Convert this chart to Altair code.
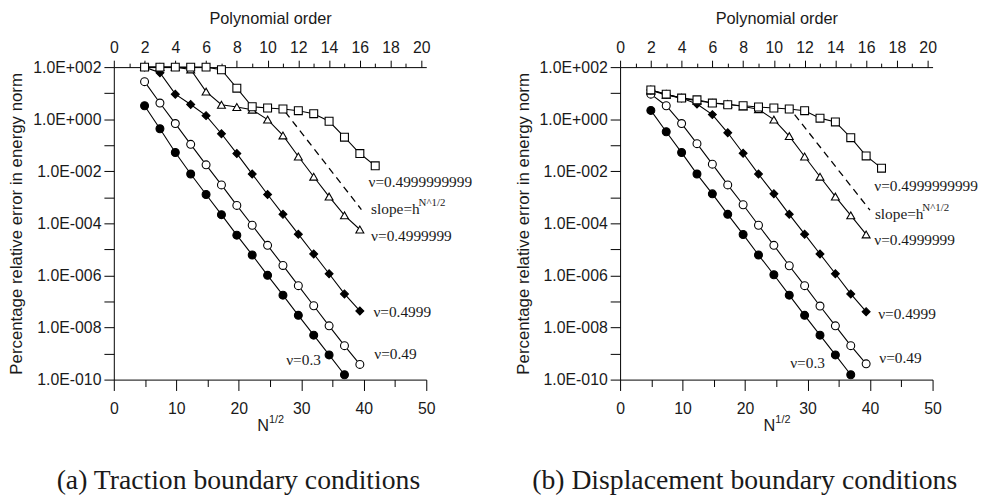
import altair as alt
import pandas as pd

# ---------------- data ----------------
SERIES = ["ν=0.3", "ν=0.49", "ν=0.4999", "ν=0.4999999", "ν=0.4999999999"]
SHAPES = ["circle", "circle", "diamond", "triangle-up", "square"]
FILLS = ["black", "white", "black", "white", "white"]
SIZES = [64, 64, 85, 80, 62]

P_15 = [2, 3, 4, 5, 6, 7, 8, 9, 10, 11, 12, 13, 14, 15]
P_16 = [2, 3, 4, 5, 6, 7, 8, 9, 10, 11, 12, 13, 14, 15, 16]
P_17 = [2, 3, 4, 5, 6, 7, 8, 9, 10, 11, 12, 13, 14, 15, 16, 17]
P_LISTS = [P_15, P_16, P_16, P_16, P_17]

# (a) traction boundary conditions
A_03 = [3.29, 0.428, 0.0524, 7.83e-3, 1.28e-3, 2.16e-4, 3.53e-5, 6.12e-6,
        1.01e-6, 1.75e-7, 2.94e-8, 5.09e-9, 8.85e-10, 1.53e-10]
A_049 = [27.6, 4.17, 0.681, 0.108, 0.0177, 2.99e-3, 4.88e-4, 8.47e-5,
         1.43e-5, 2.42e-6, 4.06e-7, 6.87e-8, 1.16e-8, 2.01e-9, 3.82e-10]
A_04999 = [100, 60.7, 9.16, 3.69, 1.37, 0.276, 0.048, 7.83e-3,
           1.28e-3, 2.22e-4, 3.85e-5, 6.68e-6, 1.16e-6, 1.95e-7, 4.32e-8]
A_04999999 = [100, 100, 100, 81.3, 11.5, 3.59, 2.94, 2.32,
              0.966, 0.238, 0.0369, 6.18e-3, 1.07e-3, 2.03e-4, 5.81e-5]
A_04999999999 = [100, 100, 100, 100, 100, 79.4, 15.5, 3.01,
                 2.69, 2.47, 2.12, 1.63, 0.832, 0.205, 0.048, 0.0162]

# (b) displacement boundary conditions
B_03 = [2.18, 0.329, 0.0524, 7.83e-3, 1.36e-3, 2.22e-4, 3.75e-5, 6.12e-6,
        1.06e-6, 1.75e-7, 2.94e-8, 5.09e-9, 8.85e-10, 1.53e-10]
B_049 = [9.16, 3.29, 0.681, 0.115, 0.0188, 2.99e-3, 5.19e-4, 8.47e-5,
         1.43e-5, 2.35e-6, 4.06e-7, 6.68e-8, 1.16e-8, 2.01e-9, 4.03e-10]
B_04999 = [13.3, 9.16, 6.46, 3.82, 1.50, 0.301, 0.0492, 7.83e-3,
           1.36e-3, 2.22e-4, 3.85e-5, 6.68e-6, 1.16e-6, 1.95e-7, 4.06e-8]
B_04999999 = [12.6, 8.61, 6.46, 5.09, 4.17, 3.82, 3.09, 2.42,
              0.966, 0.224, 0.0369, 6.18e-3, 1.07e-3, 2.03e-4, 3.75e-5]
B_04999999999 = [13.3, 9.16, 6.46, 5.56, 4.17, 3.59, 3.29, 2.94,
                 2.69, 2.47, 2.12, 1.10, 0.789, 0.195, 0.0388, 0.0132]

SLOPE_A_P = [11.15, 16.1]
SLOPE_A_E = [1.9, 3.4e-4]
SLOPE_B_P = [11.35, 16.25]
SLOPE_B_E = [1.5, 3.2e-4]

LABELS = ["ν=0.4999999999", "slope=h", "ν=0.4999999", "ν=0.4999", "ν=0.49", "ν=0.3"]
LAB_A_P = [16.56, 16.73, 16.73, 16.88, 16.94, 11.21]
LAB_A_E = [3.8e-3, 3.66e-4, 3.35e-5, 4.07e-8, 9.8e-10, 5.75e-10]
LAB_B_P = [16.53, 16.57, 16.53, 16.78, 16.85, 11.06]
LAB_B_E = [2.67e-3, 2.36e-4, 2.34e-5, 3.4e-8, 6.8e-10, 4.27e-10]
SUPER_TEXT = "N^1/2"

CAPTIONS = ["(a) Traction boundary conditions", "(b) Displacement boundary conditions"]
Y_TICKS = [1e2, 1e1, 1e0, 1e-1, 1e-2, 1e-3, 1e-4, 1e-5, 1e-6, 1e-7, 1e-8, 1e-9, 1e-10]
TOP_TICKS = [0, 1, 2, 3, 4, 5, 6, 7, 8, 9, 10, 11, 12, 13, 14, 15, 16, 17, 18, 19, 20]
BOTTOM_TICKS = [0, 5, 10, 15, 20, 25, 30, 35, 40, 45, 50]
BOTTOM_DOMAIN = [0, 50]
TOP_DOMAIN = [0, 20.32]
Y_DOMAIN = [1e-10, 1e2]

W = 316
H = 316
SANS = "Liberation Sans"
SERIF = "Liberation Serif"
INK = "#1a1a1a"

Y_LABEL_EXPR = ("(round(log(datum.value)/LN10) % 2 === 0) ? ('1.0E' + (datum.value >= 1 ? '+' : '-') + "
                "format(abs(round(log(datum.value)/LN10)), '03d')) : ''")

axis_common = dict(
    grid=False, domainColor="black", domainWidth=1, tickColor="black", tickWidth=1,
    labelColor=INK, labelFont=SANS, labelFontSize=16, labelFlush=False,
    labelOverlap=False, titleFont=SANS, titleFontWeight="normal", titleColor=INK,
)


def panel(vals, lab_p, lab_e, slope_p, slope_e, caption):
    rows = []
    for name, ps, es in zip(SERIES, P_LISTS, vals):
        for p, e in zip(ps, es):
            rows.append({"series": name, "p": p, "err": e})
    df = pd.DataFrame(rows)
    slope_df = pd.DataFrame({"p": slope_p, "err": slope_e})
    lab_df = pd.DataFrame({"p": lab_p, "err": lab_e, "t": LABELS})
    sup_df = pd.DataFrame({"p": [lab_p[1]], "err": [lab_e[1]], "t": [SUPER_TEXT]})

    xs = alt.Scale(domain=TOP_DOMAIN, nice=False, zero=False)
    ys = alt.Scale(type="log", domain=Y_DOMAIN, nice=False)
    x = alt.X("p:Q", scale=xs, axis=alt.Axis(
        orient="top", values=TOP_TICKS, title="Polynomial order", titleFontSize=16.5,
        labelExpr="datum.value % 2 === 0 ? datum.label : ''",
        tickSize={"condition": {"test": "datum.value % 2 === 0", "value": 7}, "value": 4},
        labelPadding=5, titlePadding=13, **axis_common))
    y = alt.Y("err:Q", scale=ys, axis=alt.Axis(
        values=Y_TICKS, labelExpr=Y_LABEL_EXPR, tickSize=10, labelPadding=3,
        title="Percentage relative error in energy norm", titleFontSize=17,
        titlePadding=7, **axis_common))

    lines = alt.Chart(df).mark_line(color="black", strokeWidth=1.1).encode(
        x=x, y=y, detail="series:N")
    pts = alt.Chart(df).mark_point(filled=True, stroke="black", strokeWidth=1.1, opacity=1).encode(
        x=x, y=y,
        shape=alt.Shape("series:N", scale=alt.Scale(domain=SERIES, range=SHAPES), legend=None),
        fill=alt.Fill("series:N", scale=alt.Scale(domain=SERIES, range=FILLS), legend=None),
        size=alt.Size("series:N", scale=alt.Scale(domain=SERIES, range=SIZES), legend=None),
    )
    slope = alt.Chart(slope_df).mark_line(color="black", strokeWidth=1.3, strokeDash=[7, 5]).encode(
        x=x, y=y)
    labs = alt.Chart(lab_df).mark_text(align="left", baseline="middle", font=SERIF,
                                       fontSize=15.5, color=INK).encode(x=x, y=y, text="t:N")
    sup = alt.Chart(sup_df).mark_text(align="left", baseline="middle", font=SERIF,
                                      fontSize=11, color=INK, dx=48, dy=-6).encode(
        x=x, y=y, text="t:N")
    inner = alt.layer(lines, slope, pts, labs, sup)

    bdf = pd.DataFrame({"n": BOTTOM_DOMAIN})
    bottom = alt.Chart(bdf).mark_point(opacity=0).encode(
        x=alt.X("n:Q", scale=alt.Scale(domain=BOTTOM_DOMAIN, nice=False, zero=False),
                axis=alt.Axis(orient="bottom", values=BOTTOM_TICKS, title=None,
                              labelExpr="datum.value % 10 === 0 ? datum.label : ''",
                              tickSize={"condition": {"test": "datum.value % 10 === 0", "value": 11}, "value": 7},
                              labelPadding=10, **axis_common)))

    nt = alt.Chart(pd.DataFrame({"t": ["N"]})).mark_text(
        font=SANS, fontSize=16.5, align="right", baseline="middle", color=INK).encode(
        text="t:N", x=alt.value(157), y=alt.value(363))
    nsup = alt.Chart(pd.DataFrame({"t": ["1/2"]})).mark_text(
        font=SANS, fontSize=11, align="left", baseline="middle", color=INK).encode(
        text="t:N", x=alt.value(157), y=alt.value(357))
    cap = alt.Chart(pd.DataFrame({"t": [caption]})).mark_text(
        font=SERIF, fontSize=28, align="center", baseline="middle", color=INK).encode(
        text="t:N", x=alt.value(126), y=alt.value(419))

    return alt.layer(inner, bottom, nt, nsup, cap).resolve_scale(x="independent").properties(
        width=W, height=H)


left = panel([A_03, A_049, A_04999, A_04999999, A_04999999999],
             LAB_A_P, LAB_A_E, SLOPE_A_P, SLOPE_A_E, CAPTIONS[0])
right = panel([B_03, B_049, B_04999, B_04999999, B_04999999999],
              LAB_B_P, LAB_B_E, SLOPE_B_P, SLOPE_B_E, CAPTIONS[1])

chart = alt.hconcat(left, right, spacing=196, bounds="flush").properties(
    padding={"left": 0, "top": 0, "right": 5, "bottom": 5},
    background="white",
).configure_view(stroke=None)

chart.save("out.html", embed_options={"renderer": "svg", "actions": False})
